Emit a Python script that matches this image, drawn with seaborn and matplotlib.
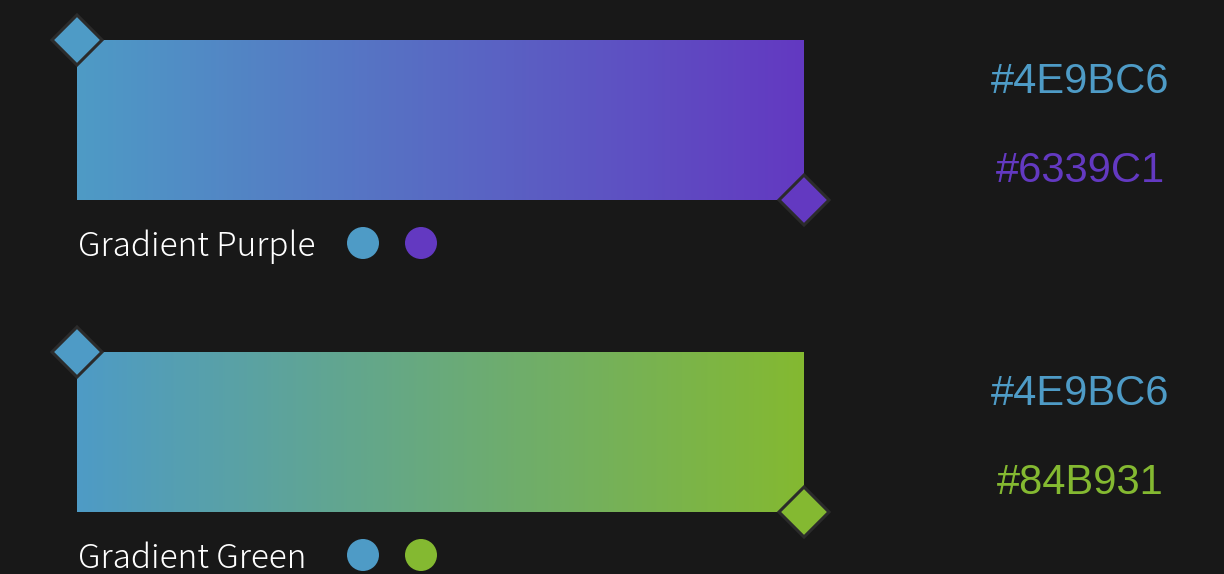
import numpy as np
import matplotlib
matplotlib.use("Agg")
import matplotlib.pyplot as plt
from matplotlib.patches import Polygon, Circle
import seaborn as sns

# --- 1. DATA ---
names = ["Gradient Purple", "Gradient Green"]
start_colors = ["#4E9BC6", "#4E9BC6"]
end_colors = ["#6339C1", "#84B931"]

# --- 2. STYLE / LAYOUT (pixel units) ---
BG = "#181818"
W, H = 1224, 574
ROW_STEP = 312
BAR_X0, BAR_X1 = 77, 804
BAR_TOP, BAR_H = 40, 160
DIAMOND_R = 25
DOT_R = 16
DOT_X = [363, 421]

sns.set_style("dark")
plt.rcParams["font.family"] = ["Liberation Sans", "DejaVu Sans"]

fig = plt.figure(figsize=(W / 100, H / 100), dpi=100, facecolor=BG)
ax = fig.add_axes([0, 0, 1, 1])
ax.set_facecolor(BG)
ax.set_xlim(0, W)
ax.set_ylim(H, 0)
ax.set_aspect("equal")
ax.axis("off")


def diamond(cx, cy, color):
    pts = [(cx, cy - DIAMOND_R), (cx + DIAMOND_R, cy), (cx, cy + DIAMOND_R), (cx - DIAMOND_R, cy)]
    ax.add_patch(Polygon(pts, closed=True, facecolor=color, edgecolor="#2b2b2b", lw=2.2, zorder=4))


for i, name in enumerate(names):
    top = BAR_TOP + i * ROW_STEP
    bottom = top + BAR_H
    cmap = sns.blend_palette([start_colors[i], end_colors[i]], as_cmap=True)
    grad = np.linspace(0, 1, 512)[None, :]
    ax.imshow(grad, cmap=cmap, extent=(BAR_X0, BAR_X1, bottom, top), aspect="auto",
              interpolation="bilinear", zorder=2)

    # handles on the corners
    diamond(BAR_X0, top, start_colors[i])
    diamond(BAR_X1, bottom, end_colors[i])

    # name + colour dots
    ax.text(BAR_X0 + 1, bottom + 56, name, color="white", fontsize=24,
            family=["Noto Sans CJK JP", "DejaVu Sans"], fontweight="light",
            va="baseline", ha="left")
    for x, c in zip(DOT_X, [start_colors[i], end_colors[i]]):
        ax.add_patch(Circle((x, bottom + 43), DOT_R, facecolor=c, edgecolor="none", zorder=3))

    # hex codes
    ax.text(1080, top + 53, start_colors[i], color=start_colors[i], fontsize=30,
            ha="center", va="baseline")
    ax.text(1080, top + 142, end_colors[i], color=end_colors[i], fontsize=30,
            ha="center", va="baseline")

fig.savefig("out.png", dpi=100, facecolor=BG)
